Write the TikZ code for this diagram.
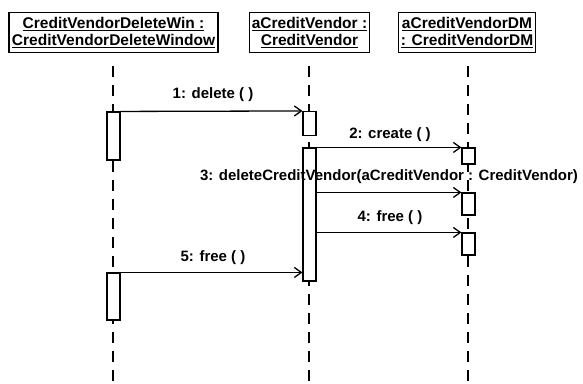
\documentclass[tikz,border=0pt]{standalone}
\usepackage{fontspec}
\setmainfont{Liberation Sans}
\usetikzlibrary{arrows.meta}
\begin{document}
\begin{tikzpicture}[x=1pt,y=-1pt,
  obj/.style={draw,line width=1.4pt,inner sep=1pt,align=center,font=\bfseries\fontsize{15.5}{16.5}\selectfont},
  life/.style={line width=1.3pt,dash pattern=on 11pt off 8pt},
  act/.style={draw,fill=white,line width=1.1pt,minimum width=13pt,inner sep=0pt},
  msg/.style={line width=1.3pt,-{Straight Barb[length=7pt,width=10pt,line width=1.3pt]}},
  lbl/.style={font=\bfseries\fontsize{15}{16}\selectfont,inner sep=0pt}]
\useasboundingbox (0,0) rectangle (583,383);
% objects
\node[obj,minimum width=209pt,minimum height=40pt] (o1) at (113.5,32.5) {\underline{CreditVendorDeleteWin :}\\\underline{CreditVendorDeleteWindow}};
\node[obj,minimum width=120pt,minimum height=40pt] (o2) at (309.5,32.5) {\underline{aCreditVendor :}\\\underline{CreditVendor}};
\node[obj,minimum width=137pt,minimum height=40pt] (o3) at (467,32.5) {\underline{aCreditVendorDM}\\\underline{: CreditVendorDM}};
% lifeline ends
\coordinate (e1) at (113,383);
\coordinate (e2) at (309,383);
\coordinate (e3) at (468,383);
\coordinate (s1) at (113,66);
\coordinate (s2) at (309,66);
\coordinate (s3) at (468,66);
\draw[life] (s1) -- (e1);
\draw[life] (s2) -- (e2);
\draw[life] (s3) -- (e3);
% activations
\node[act,minimum height=48pt] (a1) at (113.5,136) {};
\node[act,minimum height=24pt] (a2) at (309.5,123.5) {};
\node[act,minimum height=133pt] (a3) at (309.5,214.5) {};
\node[act,minimum height=16pt] (a4) at (468.5,156) {};
\node[act,minimum height=22pt] (a5) at (468.5,204) {};
\node[act,minimum height=22pt] (a6) at (468.5,244) {};
\node[act,minimum height=47pt] (a7) at (113.5,296.5) {};
% messages
\draw[msg] (a1.north east) -- (a2.north west);
\draw[msg] (a3.north east) -- (a4.north west);
\draw[msg] (a3.east |- a5.north) -- (a5.north west);
\draw[msg] (a3.east |- a6.north) -- (a6.north west);
\draw[msg] (a7.north east) -- (a3.west |- a7.north);
% labels
\node[lbl] (l1) at (213,95) {1: delete ( )};
\node[lbl] (l2) at (390,135) {2: create ( )};
\node[lbl] (l3) at (389,177) {3: deleteCreditVendor(aCreditVendor : CreditVendor)};
\node[lbl] (l4) at (390,218) {4: free ( )};
\node[lbl] (l5) at (213,258) {5: free ( )};
\end{tikzpicture}
\end{document}
